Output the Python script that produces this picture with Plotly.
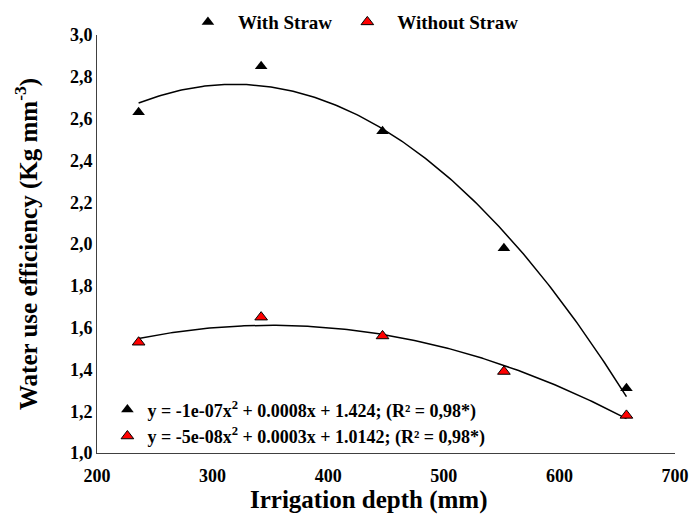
import numpy as np
import plotly.graph_objects as go

irrigation = [236, 342, 447, 552, 658]
with_straw = [2.63, 2.85, 2.54, 1.98, 1.31]
without_straw = [1.53, 1.65, 1.56, 1.39, 1.18]
series_names = ["With Straw", "Without Straw"]
equations = ["y = -1e-07x<sup>2</sup> + 0.0008x + 1.424; (R² = 0,98*)",
             "y = -5e-08x<sup>2</sup> + 0.0003x + 1.0142; (R² = 0,98*)"]
x_ticks = [200, 300, 400, 500, 600, 700]
y_ticks = [1.0, 1.2, 1.4, 1.6, 1.8, 2.0, 2.2, 2.4, 2.6, 2.8, 3.0]
x_title = "Irrigation depth (mm)"
y_title = "Water use efficiency (Kg mm<sup>-3</sup>)"

FONT = "Liberation Serif, Times New Roman, serif"
colors = ["black", "red"]

fig = go.Figure()
xs = np.linspace(min(irrigation), max(irrigation), 200)
for vals, name, col in zip([with_straw, without_straw], series_names, colors):
    c = np.polyfit(irrigation, vals, 2)
    fig.add_trace(go.Scatter(x=xs, y=np.polyval(c, xs), mode="lines",
                             line=dict(color="black", width=1.5), showlegend=False,
                             hoverinfo="skip"))
for vals, name, col in zip([with_straw, without_straw], series_names, colors):
    fig.add_trace(go.Scatter(x=irrigation, y=vals, mode="markers", name=name,
                             marker=dict(symbol="triangle-up", size=11, color=col,
                                         line=dict(color="black", width=1 if col != "black" else 0))))
for eq, col in zip(equations, colors):
    fig.add_trace(go.Scatter(x=[None], y=[None], mode="markers", name=eq, legend="legend2",
                             marker=dict(symbol="triangle-up", size=11, color=col,
                                         line=dict(color="black", width=1 if col != "black" else 0))))

fig.add_annotation(text=x_title, xref="paper", yref="paper", x=0.47, y=-0.113,
                   xanchor="center", yanchor="middle", showarrow=False,
                   font=dict(family=FONT, size=25, color="black", weight="bold"))

fig.update_layout(
    width=692, height=515,
    margin=dict(l=97, r=17, t=35, b=62, autoexpand=False),
    plot_bgcolor="white", paper_bgcolor="white",
    separators=",.",
    font=dict(family=FONT, color="black", size=18),
    legend=dict(orientation="h", x=0.14, y=1.031, xanchor="left", yanchor="middle",
                font=dict(family=FONT, size=19, color="black", weight="bold"),
                itemwidth=50, bgcolor="rgba(0,0,0,0)"),
    legend2=dict(orientation="v", x=0.018, y=0.072, xanchor="left", yanchor="middle",
                 font=dict(family=FONT, size=18, color="black", weight="bold"),
                 bgcolor="rgba(0,0,0,0)", tracegroupgap=0),
    xaxis=dict(range=[200, 700], tickvals=x_ticks, showgrid=False, zeroline=False,
               showline=True, linecolor="#404040", linewidth=1, ticks="",
               ticklabelstandoff=6, automargin=False,
               tickfont=dict(family=FONT, size=18, color="black", weight="bold")),
    yaxis=dict(range=[1.0, 3.0], tickvals=y_ticks, tickformat=".1f", showgrid=False,
               zeroline=False, showline=True, linecolor="#404040", linewidth=1, ticks="",
               automargin=False,
               tickfont=dict(family=FONT, size=18, color="black", weight="bold"),
               title=dict(text=y_title, standoff=25,
                          font=dict(family=FONT, size=25, color="black", weight="bold"))),
)

fig.write_html("out.html")
